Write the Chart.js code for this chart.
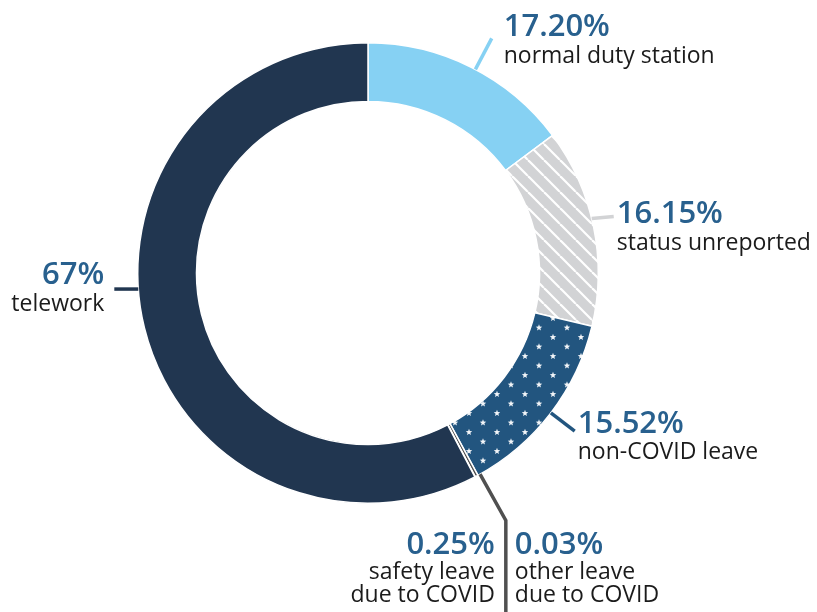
<!DOCTYPE html>
<html>
<head>
<meta charset="utf-8">
<script src="https://cdn.jsdelivr.net/npm/chart.js@4/dist/chart.umd.min.js"></script>
<style>
  body { margin: 0; background: #fff; }
  #wrap { width: 817px; height: 612px; position: relative; }
</style>
</head>
<body>
<div id="wrap"><canvas id="statusChart"></canvas></div>
<script>
// chart data
const categories = [
    ['normal duty station'],
    ['status unreported'],
    ['non-COVID leave'],
    ['safety leave', 'due to COVID'],
    ['other leave', 'due to COVID'],
    ['telework']
];
const shares = [17.20, 16.15, 15.52, 0.25, 0.03, 67];
const shareLabels = ['17.20%', '16.15%', '15.52%', '0.25%', '0.03%', '67%'];

const FONT = '"Open Sans", "Noto Sans", sans-serif';
const PCT_COLOR = '#28608e';
const TEXT_COLOR = '#1b1b1b';

function stripePattern() {
    const s = 16;
    const c = document.createElement('canvas');
    c.width = s; c.height = s;
    const g = c.getContext('2d');
    g.fillStyle = '#d2d3d5';
    g.fillRect(0, 0, s, s);
    g.strokeStyle = '#ffffff';
    g.lineWidth = 2.2;
    for (const k of [-s, 0, s]) {
        g.beginPath();
        g.moveTo(k, 0);
        g.lineTo(k + s, s);
        g.stroke();
    }
    return g.createPattern(c, 'repeat');
}

function drawStar(g, cx, cy, ro, ri) {
    g.beginPath();
    for (let i = 0; i < 10; i++) {
        const r = i % 2 === 0 ? ro : ri;
        const a = -Math.PI / 2 + i * Math.PI / 5;
        g.lineTo(cx + Math.cos(a) * r, cy + Math.sin(a) * r);
    }
    g.closePath();
    g.fill();
}

function starPattern() {
    const w = 28, h = 19;
    const c = document.createElement('canvas');
    c.width = w; c.height = h;
    const g = c.getContext('2d');
    g.fillStyle = '#22557f';
    g.fillRect(0, 0, w, h);
    g.fillStyle = '#f2f5f8';
    drawStar(g, 7, 4.75, 3.4, 1.45);
    drawStar(g, 21, 14.25, 3.4, 1.45);
    return g.createPattern(c, 'repeat');
}

const sliceColors = ['#86d1f3', stripePattern(), starPattern(), '#505050', '#707070', '#213650'];
const leaderColors = ['#86d1f3', '#d2d3d5', '#22557f', '#505050', '#505050', '#213650'];

const calloutPlugin = {
    id: 'callouts',
    afterDatasetsDraw(chart) {
        const ctx = chart.ctx;
        const arcs = chart.getDatasetMeta(0).data;
        const mid = a => (a.startAngle + a.endAngle) / 2;
        const at = (a, ang, r) => ({ x: a.x + Math.cos(ang) * r, y: a.y + Math.sin(ang) * r });

        function stroke(points, color) {
            ctx.beginPath();
            points.forEach((p, i) => i ? ctx.lineTo(p.x, p.y) : ctx.moveTo(p.x, p.y));
            ctx.strokeStyle = color;
            ctx.lineWidth = 3.5;
            ctx.stroke();
        }
        function label(i, x, y, align, gap) {
            ctx.textAlign = align;
            ctx.textBaseline = 'alphabetic';
            ctx.fillStyle = PCT_COLOR;
            ctx.font = '600 31px ' + FONT;
            ctx.fillText(shareLabels[i], x, y);
            ctx.fillStyle = TEXT_COLOR;
            ctx.font = '23px ' + FONT;
            categories[i].forEach((t, k) => ctx.fillText(t, x, y + gap + k * 23));
        }

        ctx.save();
        ctx.lineCap = 'butt';

        // normal duty station: radial leader
        let a = arcs[0], m = mid(a) + 0.02;
        let p0 = at(a, m, a.outerRadius), p1 = at(a, m, a.outerRadius + 35);
        stroke([p0, p1], leaderColors[0]);
        label(0, p1.x + 12, p1.y - 2, 'left', 27);

        // status unreported: short horizontal leader
        a = arcs[1]; m = mid(a) - 0.035;
        p0 = at(a, m, a.outerRadius);
        p1 = { x: p0.x + 22, y: p0.y - 2 };
        stroke([p0, p1], leaderColors[1]);
        label(1, p1.x + 3, p1.y + 6, 'left', 27);

        // non-COVID leave: radial leader
        a = arcs[2]; m = mid(a);
        p0 = at(a, m, a.outerRadius); p1 = at(a, m, a.outerRadius + 30);
        stroke([p0, p1], leaderColors[2]);
        label(2, p1.x + 3, p1.y + 2, 'left', 26);

        // the two thin COVID slices share one elbow leader
        a = arcs[3]; m = mid(a) - 0.017;
        p0 = at(a, m, a.outerRadius); p1 = at(a, m, a.outerRadius + 53);
        stroke([p0, p1, { x: p1.x, y: chart.height }], leaderColors[3]);
        label(3, p1.x - 11, p1.y + 34, 'right', 25);
        label(4, p1.x + 9, p1.y + 34, 'left', 25);

        // telework: horizontal leader on the left side
        a = arcs[5]; m = Math.PI * 176 / 180;
        p0 = at(a, m, a.outerRadius);
        p1 = { x: p0.x - 24, y: p0.y };
        stroke([p0, p1], leaderColors[5]);
        label(5, p1.x - 10, p1.y - 5, 'right', 27);

        ctx.restore();
    }
};

new Chart(document.getElementById('statusChart'), {
    type: 'doughnut',
    data: {
        labels: categories.map(c => c.join(' ')),
        datasets: [{
            data: shares,
            backgroundColor: sliceColors,
            borderColor: '#ffffff',
            borderWidth: 1.5
        }]
    },
    options: {
        responsive: true,
        maintainAspectRatio: false,
        animation: false,
        cutout: '74.5%',
        layout: { padding: { left: 137, top: 42, right: 218, bottom: 108 } },
        plugins: { legend: { display: false }, tooltip: { enabled: false } }
    },
    plugins: [calloutPlugin]
});
</script>
</body>
</html>
